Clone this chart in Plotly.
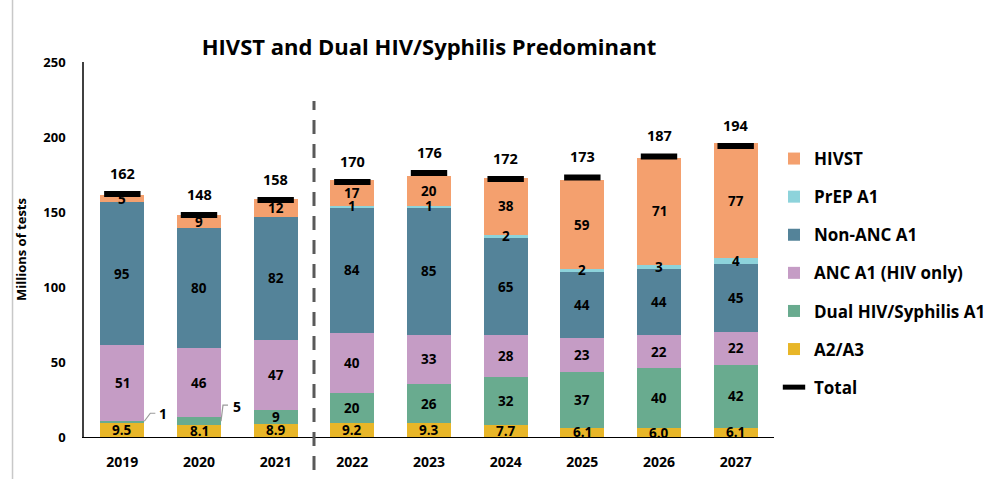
import plotly.graph_objects as go
import numpy as np

years = ["2019", "2020", "2021", "2022", "2023", "2024", "2025", "2026", "2027"]
a2a3 = [9.5, 8.1, 8.9, 9.2, 9.3, 7.7, 6.1, 6.0, 6.1]
dual = [1, 5, 9, 20, 26, 32, 37, 40, 42]
anc = [51, 46, 47, 40, 33, 28, 23, 22, 22]
non_anc = [95, 80, 82, 84, 85, 65, 44, 44, 45]
prep = [0, 0, 0, 1, 1, 2, 2, 3, 4]
hivst = [5, 9, 12, 17, 20, 38, 59, 71, 77]
totals = [162, 148, 158, 170, 176, 172, 173, 187, 194]

a2a3_labels = ["9.5", "8.1", "8.9", "9.2", "9.3", "7.7", "6.1", "6.0", "6.1"]

series = [
    ("A2/A3", a2a3, "#E8B628"),
    ("Dual HIV/Syphilis A1", dual, "#69AB8F"),
    ("ANC A1 (HIV only)", anc, "#C59CC5"),
    ("Non-ANC A1", non_anc, "#548399"),
    ("PrEP A1", prep, "#8DD3DB"),
    ("HIVST", hivst, "#F4A06E"),
]

FONT = "Open Sans"
fig = go.Figure()
n = len(series)
for i, (name, vals, col) in enumerate(series):
    fig.add_trace(go.Bar(
        x=years, y=vals, name=name, marker=dict(color=col, line=dict(width=0)),
        legendrank=n - i, legendgroup=name,
    ))

fig.add_trace(go.Scatter(
    x=years, y=totals, mode="markers", name="Total", legendgroup="Total",
    marker=dict(symbol="line-ew", size=26, line=dict(width=6, color="black"), color="black"),
    legendrank=n + 1,
))

annotations = []
# segment labels
cum = np.zeros(len(years))
for si, (name, vals, col) in enumerate(series):
    for j, v in enumerate(vals):
        mid = cum[j] + v / 2
        if v > 0:
            if name == "A2/A3":
                txt = a2a3_labels[j]
            else:
                txt = str(v)
            if name == "Dual HIV/Syphilis A1" and j in (0, 1):
                pass
            else:
                annotations.append(dict(x=j, y=mid, text=txt, showarrow=False,
                                        font=dict(size=13.5, color="black", family=FONT, weight="bold")))
    cum = cum + np.array(vals, dtype=float)

# total labels
for j, t in enumerate(totals):
    annotations.append(dict(x=j, y=t, text=str(t), showarrow=False, yshift=21,
                            font=dict(size=14.5, color="black", family=FONT, weight="bold")))

# callout labels for small dual segments
callouts = [(0, a2a3[0] + dual[0], "M 22 0 L 28 8 L 33 8", 41, 8),
            (1, a2a3[1] + dual[1] / 2, "M 22 0 L 24 16 L 29 16", 38, 15)]
shapes = []
for j, yv, path, dx, dy in callouts:
    shapes.append(dict(type="path", xref="x", yref="y", xsizemode="pixel", ysizemode="pixel",
                       xanchor=j, yanchor=yv, path=path, line=dict(color="#9a9a9a", width=1.2)))
    val = dual[j]
    annotations.append(dict(x=j, y=yv, text=str(val), showarrow=False, xshift=dx, yshift=dy,
                            font=dict(size=14, color="black", family=FONT, weight="bold")))

# dashed separator between historical and projected
sep = (2.5 + 0.5) / len(years)
shapes.append(dict(type="line", xref="x domain", yref="y domain", x0=sep, x1=sep,
                   y0=-0.088, y1=0.896, line=dict(color="#595959", width=3, dash="14px,10px")))
# left border line
shapes.append(dict(type="line", xref="paper", yref="paper", x0=-0.1036, x1=-0.1036,
                   y0=-0.2, y1=1.3, line=dict(color="#c8c8c8", width=1.5)))

fig.update_layout(
    barmode="stack",
    width=985, height=479,
    margin=dict(l=84, r=206, t=61.5, b=42),
    paper_bgcolor="white", plot_bgcolor="white",
    bargap=0.43,
    title=dict(text="HIVST and Dual HIV/Syphilis Predominant", x=0.5, xref="paper",
               xanchor="center", y=1 - 47 / 479, yanchor="middle",
               font=dict(size=22, color="black", family=FONT, weight="bold")),
    font=dict(family=FONT, color="black"),
    xaxis=dict(type="category", showline=True, linecolor="black", linewidth=1.2,
               ticks="", ticklabelstandoff=12, automargin=False,
               tickfont=dict(size=14, family=FONT, weight="bold", color="black"),
               range=[-0.5, 8.5], fixedrange=True),
    yaxis=dict(range=[0, 250], tickvals=[0, 50, 100, 150, 200, 250], showgrid=False,
               showline=True, linecolor="#404040", linewidth=1.5, ticks="",
               zeroline=False, ticklabelstandoff=14, automargin=False,
               tickfont=dict(size=13, family=FONT, weight="bold", color="black"),
               title=dict(text="Millions of tests", standoff=14,
                          font=dict(size=13, family=FONT, weight="bold", color="black"))),
    legend=dict(xref="container", yref="container", x=774 / 985, xanchor="left",
                y=1 - 141 / 479, yanchor="top", maxheight=1,
                traceorder="grouped", tracegroupgap=13,
                font=dict(size=17, family=FONT, weight="bold", color="black"),
                bgcolor="rgba(0,0,0,0)"),
    annotations=annotations,
    shapes=shapes,
)

fig.write_html("out.html", config={"displayModeBar": False},
               post_script="document.body.style.margin='0px';document.body.style.overflow='hidden';")
